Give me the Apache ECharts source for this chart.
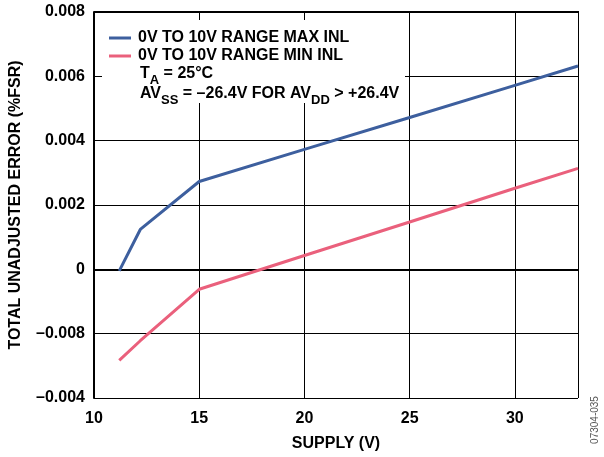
<!DOCTYPE html>
<html><head><meta charset="utf-8">
<script src="https://cdn.jsdelivr.net/npm/echarts@6/dist/echarts.min.js"></script>
<style>html,body{margin:0;padding:0;background:#fff}#c{width:604px;height:457px}</style>
</head><body><div id="c"></div>
<script>
const maxInlX = [11.2, 12.2, 15, 20, 25, 30, 33];
const maxInlY = [-0.00005, 0.00124, 0.00273, 0.00373, 0.00472, 0.00572, 0.00632];
const minInlX = [11.2, 12.2, 15, 20, 25, 30, 33];
const minInlY = [-0.00283, -0.00222, -0.00062, 0.00043, 0.00147, 0.00252, 0.00314];
const yTickValues = [-0.004, -0.002, 0, 0.002, 0.004, 0.006, 0.008];
const yTickLabels = ['\u20130.004', '\u20130.008', '0', '0.002', '0.004', '0.006', '0.008'];
const xTickLabels = ['10', '15', '20', '25', '30'];
const seriesNames = ['0V TO 10V RANGE MAX INL', '0V TO 10V RANGE MIN INL'];

const FONT = '"Liberation Sans", Arial, sans-serif';
const FS = 16;
const chart = echarts.init(document.getElementById('c'));
function pairs(xs, ys) { return xs.map((x, i) => [x, ys[i]]); }
const rich = {
  n: { fontFamily: FONT, fontWeight: 'bold', fontSize: FS, lineHeight: 17, verticalAlign: 'top' },
  s: { fontFamily: FONT, fontWeight: 'bold', fontSize: 13, lineHeight: 12, padding: [8, 0, 0, 0], verticalAlign: 'top' }
};
chart.setOption({
  animation: false,
  grid: { left: 94, right: 26, top: 12, bottom: 59 },
  xAxis: {
    type: 'value', min: 10, max: 33, interval: 5,
    name: 'SUPPLY (V)', nameLocation: 'middle', nameGap: 38,
    nameTextStyle: { fontFamily: FONT, fontWeight: 'bold', fontSize: FS, color: '#000' },
    axisLine: { show: true, lineStyle: { color: '#000', width: 2 } },
    axisTick: { show: false },
    axisLabel: { margin: 13, fontFamily: FONT, fontWeight: 'bold', fontSize: FS, color: '#000',
      showMaxLabel: false,
      formatter: v => { const i = xTickLabels.indexOf(String(v)); return i >= 0 ? xTickLabels[i] : ''; } },
    splitLine: { show: true, lineStyle: { color: '#000', width: 1 } }
  },
  yAxis: {
    type: 'value', min: -0.004, max: 0.008, interval: 0.002,
    name: 'TOTAL UNADJUSTED ERROR (%FSR)', nameLocation: 'middle', nameGap: 70,
    nameTextStyle: { fontFamily: FONT, fontWeight: 'bold', fontSize: FS, color: '#000' },
    axisLine: { show: true, lineStyle: { color: '#000', width: 2 } },
    axisTick: { show: false },
    axisLabel: { margin: 9, fontFamily: FONT, fontWeight: 'bold', fontSize: FS, color: '#000',
      formatter: v => { let best = 0; yTickValues.forEach((t, i) => { if (Math.abs(t - v) < Math.abs(yTickValues[best] - v)) best = i; }); return yTickLabels[best]; } },
    splitLine: { show: true, lineStyle: { color: ['#000', '#000', '#444', '#000', '#000', '#000', '#000'], width: 1 } }
  },
  legend: {
    orient: 'vertical', left: 104, top: 25, itemWidth: 22, itemHeight: 3, itemGap: 2,
    icon: 'rect', z: 5,
    textStyle: { fontFamily: FONT, fontWeight: 'bold', fontSize: FS, color: '#000', padding: [0, 0, 0, 2] },
    data: seriesNames
  },
  graphic: [
    { type: 'rect', z: 1, shape: { x: 102, y: 20, width: 303, height: 83 }, style: { fill: '#fff' } },
    { type: 'rect', z: 1, shape: { x: 578, y: 12, width: 1, height: 386 }, style: { fill: '#000' } },
    { type: 'rect', z: 1, shape: { x: 94, y: 11, width: 485, height: 2 }, style: { fill: '#000' } },
    { type: 'text', z: 6, left: 140, top: 66, style: {
      text: '{n|T}{s|A}{n| = 25°C}', fill: '#000', rich: rich } },
    { type: 'text', z: 6, left: 140, top: 86, style: {
      text: '{n|AV}{s|SS}{n| = \u201326.4V FOR AV}{s|DD}{n| > +26.4V}', fill: '#000', rich: rich } },
    { type: 'text', z: 6, x: 600, y: 420, rotation: Math.PI / 2, style: {
      text: '07304-035', fontFamily: FONT, fontSize: 10, fill: '#555', align: 'center', verticalAlign: 'bottom' } }
  ],
  series: [
    { name: seriesNames[0], type: 'line', data: pairs(maxInlX, maxInlY), symbol: 'none', z: 3,
      lineStyle: { color: '#3d5f9e', width: 3 }, itemStyle: { color: '#3d5f9e' } },
    { name: seriesNames[1], type: 'line', data: pairs(minInlX, minInlY), symbol: 'none', z: 3,
      lineStyle: { color: '#ea607c', width: 3 }, itemStyle: { color: '#ea607c' } }
  ]
});
</script></body></html>
